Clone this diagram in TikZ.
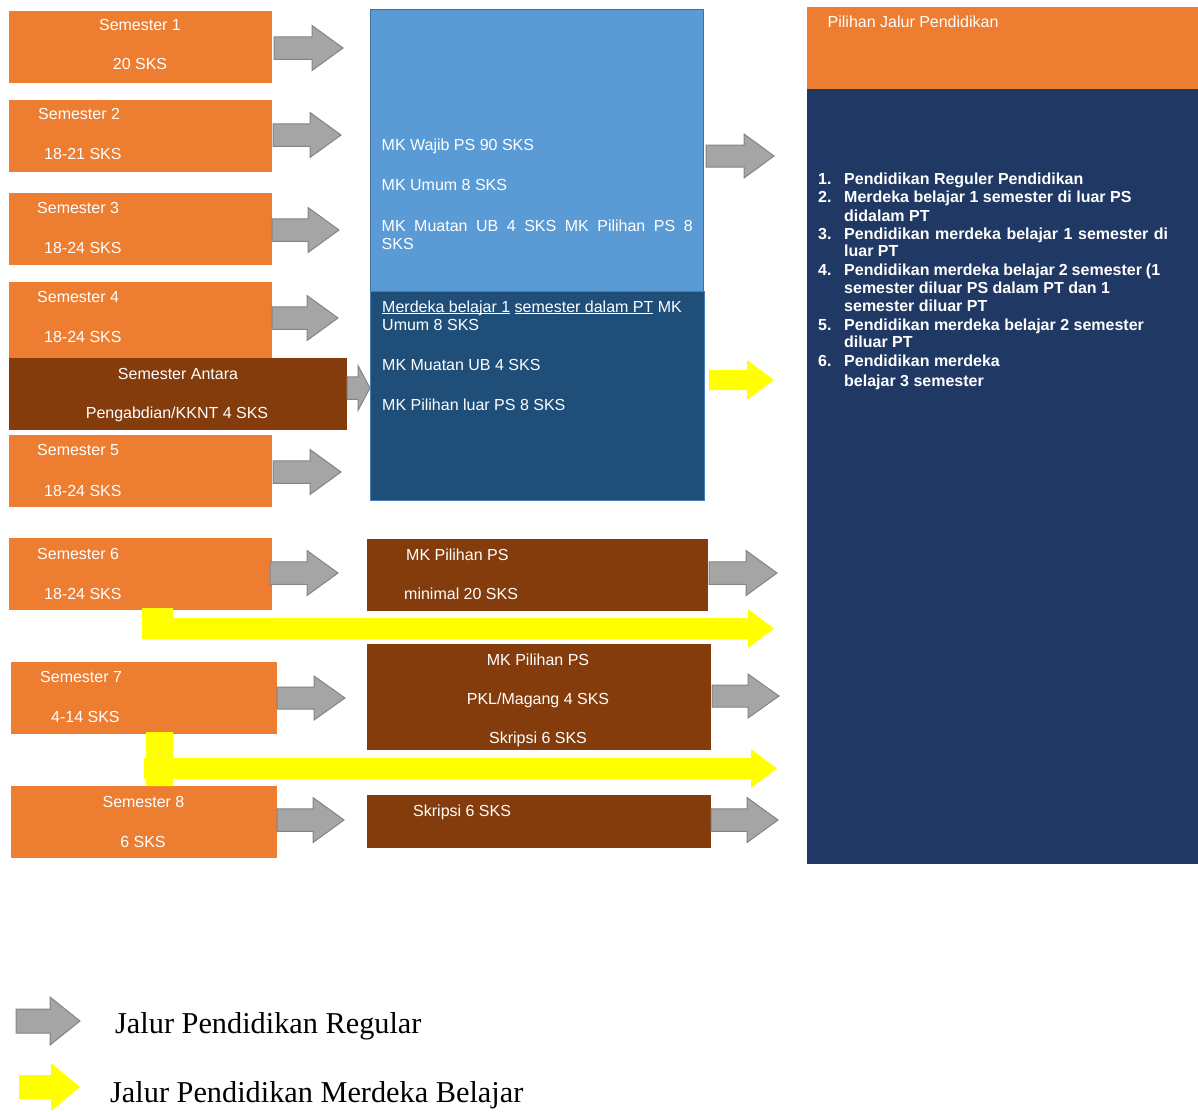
\documentclass[tikz,border=0pt]{standalone}
\usepackage{fontspec}
\setmainfont{Liberation Sans}
\newfontfamily\legendfont{Liberation Serif}
\definecolor{cOrange}{HTML}{ED7D31}
\definecolor{cBrown}{HTML}{843C0C}
\definecolor{cLBlue}{HTML}{5B9BD5}
\definecolor{cLBlueEdge}{HTML}{41719C}
\definecolor{cDBlue}{HTML}{1F4E79}
\definecolor{cDBlueEdge}{HTML}{4A7EBB}
\definecolor{cNavy}{HTML}{203864}
\definecolor{cGrey}{HTML}{A5A5A5}
\definecolor{cGreyEdge}{HTML}{848484}
\definecolor{cYellow}{HTML}{FFFF00}
\newcommand\barrow[6]{%
  \pgfmathsetmacro\bya{#4-#5/2}%
  \pgfmathsetmacro\byb{#4+#5/2}%
  \pgfmathsetmacro\byc{#4-#5}%
  \pgfmathsetmacro\byd{#4+#5}%
  \pgfmathsetmacro\bxh{#3-#6}%
  \filldraw[#1] (#2,\bya) -- (\bxh,\bya) -- (\bxh,\byc) -- (#3,#4) -- (\bxh,\byd) -- (\bxh,\byb) -- (#2,\byb) -- cycle;}
\newsavebox\ulnbox
\newcommand\uln[1]{\sbox\ulnbox{#1}\rlap{\rule[-2pt]{\wd\ulnbox}{1pt}}\usebox\ulnbox}
\tikzset{
  box/.style={anchor=north west, inner sep=0pt, outer sep=0pt, draw=none},
  obox/.style={box, fill=cOrange},
  bbox/.style={box, fill=cBrown},
  txt/.style={text=white, inner sep=0pt, font=\fontsize{16}{18}\selectfont},
  btxt/.style={text=white, inner sep=0pt, font=\bfseries\fontsize{16}{18}\selectfont},
  ltxt/.style={text=black, inner sep=0pt, font=\legendfont\fontsize{30.3}{33}\selectfont},
  garrow/.style={fill=cGrey, draw=cGreyEdge, line width=1pt},
  yarrow/.style={fill=cYellow, draw=none},
}
\begin{document}
\begin{tikzpicture}[x=1pt,y=-1pt]
\useasboundingbox (0,0) rectangle (1198,1111);
\fill[white] (0,0) rectangle (1198,1111);

% ---------- semester boxes ----------
\node[obox, minimum width=263pt, minimum height=72pt] (s1) at (9,11) {};
\node[txt, anchor=base] (s1a) at (140,30.5) {Semester 1};
\node[txt, anchor=base] (s1b) at (140,69.5) {20 SKS};

\node[obox, minimum width=263pt, minimum height=72pt] (s2) at (9,100) {};
\node[txt, anchor=base west] (s2a) at (38,119.5) {Semester 2};
\node[txt, anchor=base west] (s2b) at (44,159.5) {18-21 SKS};

\node[obox, minimum width=263pt, minimum height=72pt] (s3) at (9,193) {};
\node[txt, anchor=base west] (s3a) at (37,213) {Semester 3};
\node[txt, anchor=base west] (s3b) at (44,253.5) {18-24 SKS};

\node[obox, minimum width=263pt, minimum height=76pt] (s4) at (9,282) {};
\node[txt, anchor=base west] (s4a) at (37,302.5) {Semester 4};
\node[txt, anchor=base west] (s4b) at (44,342) {18-24 SKS};

\node[bbox, minimum width=338pt, minimum height=72pt] (sa) at (9,358) {};
\node[txt, anchor=base] (saa) at (178,379) {Semester Antara};
\node[txt, anchor=base] (sab) at (177,418.5) {Pengabdian/KKNT 4 SKS};

\node[obox, minimum width=263pt, minimum height=72pt] (s5) at (9,435) {};
\node[txt, anchor=base west] (s5a) at (37,455.5) {Semester 5};
\node[txt, anchor=base west] (s5b) at (44,496) {18-24 SKS};

\node[obox, minimum width=263pt, minimum height=72pt] (s6) at (9,538) {};
\node[txt, anchor=base west] (s6a) at (37,559) {Semester 6};
\node[txt, anchor=base west] (s6b) at (44,599) {18-24 SKS};

\node[obox, minimum width=266pt, minimum height=72pt] (s7) at (11,662) {};
\node[txt, anchor=base west] (s7a) at (40,682.5) {Semester 7};
\node[txt, anchor=base west] (s7b) at (51,722.5) {4-14 SKS};

\node[obox, minimum width=266pt, minimum height=72pt] (s8) at (11,786) {};
\node[txt, anchor=base] (s8a) at (143.5,807.5) {Semester 8};
\node[txt, anchor=base] (s8b) at (143,847) {6 SKS};

% ---------- blue boxes ----------
\node[box, fill=cLBlue, draw=cLBlueEdge, line width=1pt, minimum width=333pt, minimum height=282pt] (bu) at (370,9) {};
\node[txt, anchor=base west] (bu1) at (381.5,150) {MK Wajib PS 90 SKS};
\node[txt, anchor=base west] (bu2) at (381.5,190) {MK Umum 8 SKS};
\node[txt, anchor=base west] (bu3) at (381.5,231.5) {\makebox[311pt][s]{MK Muatan UB 4 SKS MK Pilihan PS 8}};
\node[txt, anchor=base west] (bu4) at (381.5,249) {SKS};

\node[box, fill=cDBlue, draw=cDBlueEdge, line width=1pt, minimum width=334pt, minimum height=209pt] (bl) at (370,291) {};
\node[txt, anchor=base west] (bl1) at (382,312) {\uln{Merdeka belajar 1} \uln{semester dalam PT} MK};
\node[txt, anchor=base west] (bl2) at (382,330) {Umum 8 SKS};
\node[txt, anchor=base west] (bl3) at (382,370) {MK Muatan UB 4 SKS};
\node[txt, anchor=base west] (bl4) at (382,410) {MK Pilihan luar PS 8 SKS};

% ---------- brown boxes ----------
\node[bbox, minimum width=341pt, minimum height=72pt] (p1) at (367,539) {};
\node[txt, anchor=base west] (p1a) at (406,560) {MK Pilihan PS};
\node[txt, anchor=base west] (p1b) at (404,599.5) {minimal 20 SKS};

\node[bbox, minimum width=344pt, minimum height=106pt] (p2) at (367,644) {};
\node[txt, anchor=base] (p2a) at (538,665) {MK Pilihan PS};
\node[txt, anchor=base] (p2b) at (538,704) {PKL/Magang 4 SKS};
\node[txt, anchor=base] (p2c) at (538,743.5) {Skripsi 6 SKS};

\node[bbox, minimum width=344pt, minimum height=53pt] (p3) at (367,795) {};
\node[txt, anchor=base west] (p3a) at (413,816) {Skripsi 6 SKS};

% ---------- right panel ----------
\node[box, fill=cOrange, minimum width=391pt, minimum height=82pt] (rh) at (807,7) {};
\node[txt, anchor=base west] (rht) at (827.5,27.5) {Pilihan Jalur Pendidikan};
\node[box, fill=cNavy, minimum width=391pt, minimum height=775pt] (rb) at (807,89) {};

\node[btxt, anchor=base west] (n1) at (818,184.5) {1.};
\node[btxt, anchor=base west] (l1) at (844,184.5) {Pendidikan Reguler Pendidikan};
\node[btxt, anchor=base west] (n2) at (818,202.5) {2.};
\node[btxt, anchor=base west] (l2) at (844,202.5) {Merdeka belajar 1 semester di luar PS};
\node[btxt, anchor=base west] (l2b) at (844,221) {didalam PT};
\node[btxt, anchor=base west] (n3) at (818,239.5) {3.};
\node[btxt, anchor=base west] (l3) at (844,239.5) {\makebox[324pt][s]{Pendidikan merdeka belajar 1 semester di}};
\node[btxt, anchor=base west] (l3b) at (844,256) {luar PT};
\node[btxt, anchor=base west] (n4) at (818,275) {4.};
\node[btxt, anchor=base west] (l4) at (844,275) {\makebox[316pt][s]{Pendidikan merdeka belajar 2 semester (1}};
\node[btxt, anchor=base west] (l4b) at (844,293) {semester diluar PS dalam PT dan 1};
\node[btxt, anchor=base west] (l4c) at (844,311.5) {semester diluar PT};
\node[btxt, anchor=base west] (n5) at (818,330) {5.};
\node[btxt, anchor=base west] (l5) at (844,330) {Pendidikan merdeka belajar 2 semester};
\node[btxt, anchor=base west] (l5b) at (844,347.5) {diluar PT};
\node[btxt, anchor=base west] (n6) at (818,366.5) {6.};
\node[btxt, anchor=base west] (l6) at (844,366.5) {Pendidikan merdeka};
\node[btxt, anchor=base west] (l6b) at (844,386) {belajar 3 semester};

% ---------- grey block arrows ----------
\barrow{garrow}{274}{343}{48}{22.5}{31}
\barrow{garrow}{273}{341}{135}{22.5}{31}
\barrow{garrow}{272}{339}{230}{22.5}{31}
\barrow{garrow}{272}{338}{318}{22.5}{31}
\barrow{garrow}{347}{370}{388}{22.5}{12}
\barrow{garrow}{273}{341}{472}{22.5}{31}
\barrow{garrow}{270}{338}{573}{22.5}{31}
\barrow{garrow}{277}{345}{698}{22}{31}
\barrow{garrow}{277}{344}{820}{22.5}{31}
\barrow{garrow}{706}{774}{156}{22}{30}
\barrow{garrow}{709}{777}{573}{22.5}{31}
\barrow{garrow}{712}{779}{696}{22}{31}
\barrow{garrow}{711}{778}{820}{22.5}{31}

% ---------- yellow arrows ----------
\barrow{yarrow}{709}{774}{380}{20}{27}
\fill[cYellow] (142,608) -- (173,608) -- (173,618) -- (748,618) -- (748,609)
  -- (774,628.5) -- (748,648) -- (748,639) -- (142,639) -- cycle;
\fill[cYellow] (146,732) -- (173,732) -- (173,758) -- (751,758) -- (751,749)
  -- (777,768.5) -- (751,788) -- (751,779) -- (173,779) -- (173,786)
  -- (146,786) -- (146,779) -- (144,779) -- (144,758) -- (146,758) -- cycle;

% ---------- legend ----------
\barrow{garrow}{16}{80}{1021}{24}{30}
\node[ltxt, anchor=base west] (lg1) at (115,1033) {Jalur Pendidikan Regular};
\barrow{yarrow}{19}{80}{1087}{24}{29}
\node[ltxt, anchor=base west] (lg2) at (110,1102) {Jalur Pendidikan Merdeka Belajar};
\end{tikzpicture}
\end{document}
